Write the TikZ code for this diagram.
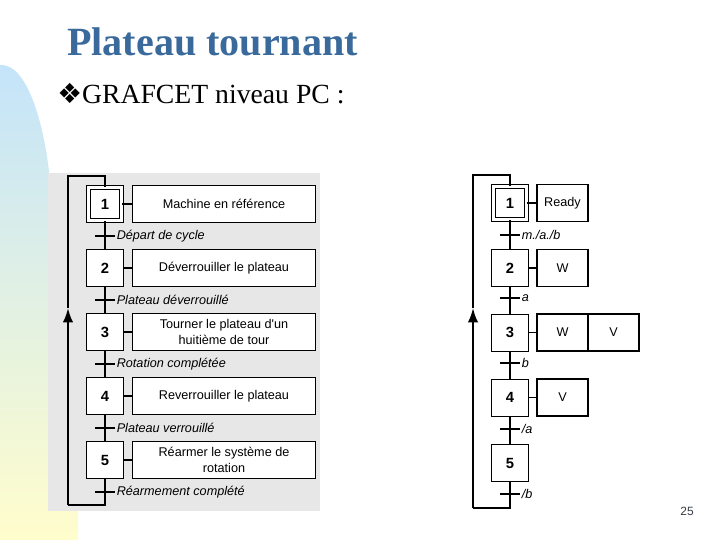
\documentclass[tikz,border=0pt]{standalone}
\usepackage{fontspec}
\setmainfont{Liberation Serif}
\setsansfont{Liberation Sans}
\newfontfamily\symbfont{DejaVu Sans}
\usetikzlibrary{arrows.meta}

\definecolor{titleblue}{RGB}{58,106,155}
\definecolor{skyblue}{RGB}{196,228,250}
\definecolor{cream}{RGB}{255,253,204}
\definecolor{panelgray}{RGB}{231,231,231}
\definecolor{pagegray}{RGB}{55,60,70}

\begin{document}
\begin{tikzpicture}[x=0.025cm, y=-0.025cm, >=Latex,
  font=\sffamily\fontsize{9}{11}\selectfont,
  stepbox/.style={draw, line width=0.6pt, fill=white, minimum width=9.1mm, minimum height=9.25mm,
    inner sep=0pt, font=\sffamily\bfseries\fontsize{10.5}{12}\selectfont},
  initbox/.style={stepbox, double, double distance=1.9pt, minimum width=8.2mm, minimum height=8.25mm},
  action/.style={draw, line width=0.9pt, fill=white, minimum height=9.25mm, inner sep=1pt, align=center},
  wide/.style={action, minimum width=45.75mm},
  narrow/.style={action, minimum width=12.75mm},
  trans/.style={fill, minimum width=4.9mm, minimum height=1.5pt, inner sep=0pt},
  tlabel/.style={font=\sffamily\itshape\fontsize{9}{10}\selectfont, inner sep=1pt},
  link/.style={line width=1.2pt},
  loopline/.style={line width=1.4pt}]

\useasboundingbox (0,0) rectangle (720,540);

% ---------- slide background ----------
\shade[top color=skyblue, bottom color=cream]
  (0,540) -- (0,65) .. controls (26,63) and (44,120) .. (50,180) -- (78,300) -- (78,540) -- cycle;
\fill[panelgray] (48,173) rectangle (320,511);

\node[anchor=base west, inner sep=0pt, text=titleblue,
  font=\rmfamily\bfseries\fontsize{28.5}{32}\selectfont] (title) at (67,55) {Plateau tournant};
\node[anchor=base west, inner sep=0pt, font=\rmfamily\fontsize{19.7}{23}\selectfont] (sub) at (57,103)
  {{\symbfont ❖}GRAFCET niveau PC :};
\node[text=pagegray, font=\sffamily\fontsize{8.5}{10}\selectfont] (page) at (687,511) {25};

% ---------- GRAFCET, point de vue systeme (left) ----------
\node[initbox] (s1) at (105,204) {1};
\node[stepbox] (s2) at (105,268) {2};
\node[stepbox] (s3) at (105,332) {3};
\node[stepbox] (s4) at (105,396) {4};
\node[stepbox] (s5) at (105,460) {5};

\node[wide] (a1) at (224,204) {Machine en référence};
\node[wide] (a2) at (224,268) {Déverrouiller le plateau};
\node[wide] (a3) at (224,332) {Tourner le plateau d\textquotesingle un\\huitième de tour};
\node[wide] (a4) at (224,396) {Reverrouiller le plateau};
\node[wide] (a5) at (224,460) {Réarmer le système de\\rotation};

\foreach \i in {1,...,5} \draw[link] (s\i.east) -- (a\i.west);

\draw[link] (s1.south) -- (s2.north);
\draw[link] (s2.south) -- (s3.north);
\draw[link] (s3.south) -- (s4.north);
\draw[link] (s4.south) -- (s5.north);

\node[trans, label={[tlabel]right:Départ de cycle}]      (t1) at (105,236) {};
\node[trans, label={[tlabel]right:Plateau déverrouillé}] (t2) at (105,300) {};
\node[trans, label={[tlabel]right:Rotation complétée}]   (t3) at (105,364) {};
\node[trans, label={[tlabel]right:Plateau verrouillé}]   (t4) at (105,428) {};
\node[trans, label={[tlabel]right:Réarmement complété}]  (t5) at (105,492) {};

% return loop
\coordinate (lb) at (68,505);
\coordinate (la) at (68,308);
\coordinate (lt) at (105,176);
\draw[loopline] (s5.south) |- (lb);
\draw[loopline, -{Latex[length=3.6mm, width=2.6mm]}] (lb) -- (la);
\draw[loopline] (la) |- (lt) -- (s1.north);

% ---------- GRAFCET, point de vue PC (right) ----------
\node[initbox] (r1) at (510,203) {1};
\node[stepbox] (r2) at (510,268) {2};
\node[stepbox] (r3) at (510,332.5) {3};
\node[stepbox] (r4) at (510,397.5) {4};
\node[stepbox] (r5) at (510,463) {5};

\node[narrow] (b1) at (562.5,203)   {Ready};
\node[narrow] (b2) at (562.5,268)   {W};
\node[narrow] (b3) at (562.5,332.5) {W};
\node[narrow] (c3) at (613.5,332.5) {V};
\node[narrow] (b4) at (562.5,397.5) {V};

\draw[link] (r1.east) -- (b1.west);
\draw[link] (r2.east) -- (b2.west);
\draw[link] (r3.east) -- (b3.west);
\draw[link] (r4.east) -- (b4.west);

\draw[link] (r1.south) -- (r2.north);
\draw[link] (r2.south) -- (r3.north);
\draw[link] (r3.south) -- (r4.north);
\draw[link] (r4.south) -- (r5.north);

\node[trans, label={[tlabel]right:m./a./b}] (u1) at (510,235) {};
\node[trans, label={[tlabel]right:a}]       (u2) at (510,298) {};
\node[trans, label={[tlabel]right:b}]       (u3) at (510,363) {};
\node[trans, label={[tlabel]right:/a}]      (u4) at (510,429) {};
\node[trans, label={[tlabel]right:/b}]      (u5) at (510,494) {};

% return loop
\coordinate (rb) at (473,508);
\coordinate (ra) at (473,308);
\coordinate (rt) at (510,175);
\draw[loopline] (r5.south) |- (rb);
\draw[loopline, -{Latex[length=3.6mm, width=2.6mm]}] (rb) -- (ra);
\draw[loopline] (ra) |- (rt) -- (r1.north);

\end{tikzpicture}
\end{document}
